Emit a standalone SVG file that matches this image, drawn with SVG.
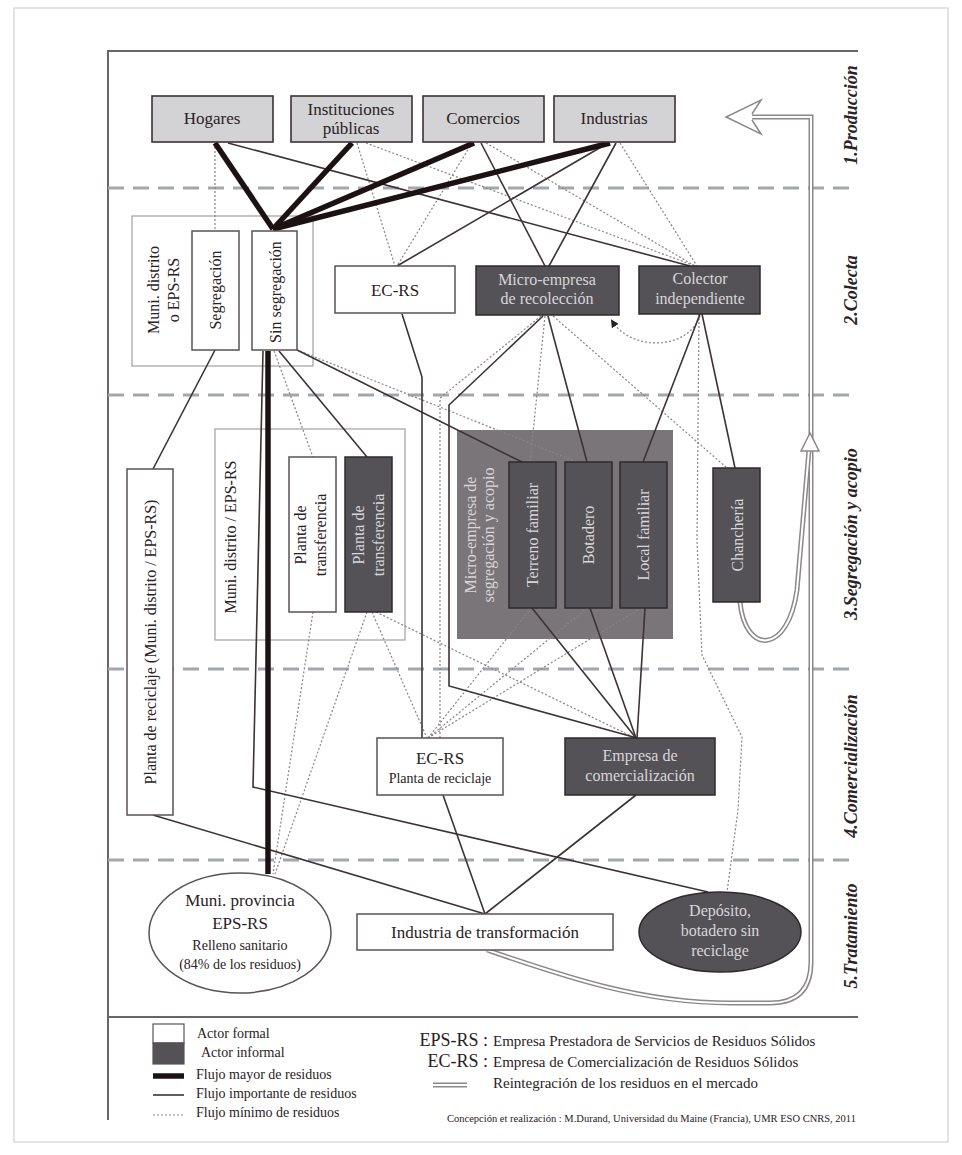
<svg xmlns="http://www.w3.org/2000/svg" width="962" height="1155" viewBox="0 0 962 1155">
<defs>
<style>
text{font-family:"Liberation Serif","Times New Roman",serif;fill:#2a2224}
.t16{font-size:16px;text-anchor:middle}
.t17{font-size:17px;text-anchor:middle}
.lt{fill:#d9d6d9}
.stage{font-size:18px;font-weight:bold;font-style:italic;text-anchor:middle;fill:#2a2224}
.prod{fill:#d3d3d6;stroke:#3a3334;stroke-width:1.6}
.wn{fill:#ffffff;stroke:#5a5254;stroke-width:1.5}
.dn{fill:#545157;stroke:#2e2a2c;stroke-width:1.5}
.grp{fill:none;stroke:#a9a6a8;stroke-width:1.3}
.sep{stroke:#a3a6ad;stroke-width:3;stroke-dasharray:16 9;fill:none}
.thick{stroke:#1c1214;stroke-width:5.5;fill:none}
.solid{stroke:#3d3234;stroke-width:1.6;fill:none}
.dot{stroke:#8a8486;stroke-width:1.2;stroke-dasharray:2 2;fill:none}
.dblo{stroke:#8c8889;stroke-width:5;fill:none}
.dbli{stroke:#ffffff;stroke-width:2;fill:none}
.leg{font-size:14px}
</style>
<marker id="ah" markerWidth="8" markerHeight="8" refX="6" refY="4" orient="auto" markerUnits="userSpaceOnUse">
<path d="M0,0 L8,4 L0,8 Z" fill="#2a2224"/>
</marker>
</defs>
<rect x="0" y="0" width="962" height="1155" fill="#ffffff"/>
<rect x="14" y="8" width="934" height="1134" fill="none" stroke="#c8c8c8" stroke-width="1"/>
<g id="frame">
<path d="M858,51 L108,51 L108,1120" fill="none" stroke="#6b6364" stroke-width="2"/>
<path d="M108,1017 L858,1017" fill="none" stroke="#6b6364" stroke-width="2"/>
<path class="sep" d="M108,188 L858,188"/>
<path class="sep" d="M108,395 L858,395"/>
<path class="sep" d="M108,669 L858,669"/>
<path class="sep" d="M108,860 L858,860"/>
</g>
<g id="stages">
<text class="stage" transform="translate(857,115) rotate(-90)">1.Producción</text>
<text class="stage" transform="translate(857,290) rotate(-90)">2.Colecta</text>
<text class="stage" transform="translate(857,534) rotate(-90)">3.Segregación y acopio</text>
<text class="stage" transform="translate(857,766) rotate(-90)">4.Comercialización</text>
<text class="stage" transform="translate(857,936) rotate(-90)">5.Tratamiento</text>
</g>
<g id="groups">
<rect class="grp" x="132" y="216" width="181" height="150"/>
<text class="t16" transform="translate(159,290) rotate(-90)">Muni. distrito</text>
<text class="t16" transform="translate(179,290) rotate(-90)">o EPS-RS</text>
<rect class="grp" x="215" y="429" width="190" height="211"/>
<text class="t16" transform="translate(236,537) rotate(-90)">Muni. distrito / EPS-RS</text>
<rect x="457" y="430" width="216" height="209" fill="#7a7579"/>
<text class="t16 lt" transform="translate(476,535) rotate(-90)">Micro-empresa de</text>
<text class="t16 lt" transform="translate(494,535) rotate(-90)">segregación y acopio</text>
</g>
<g id="connectors">
<path class="dblo" d="M487,950 C560,975 640,1003 730,1003 L770,1003 Q811,1003 811,962 L811,117 L752,117"/>
<path class="dbli" d="M487,950 C560,975 640,1003 730,1003 L770,1003 Q811,1003 811,962 L811,117 L752,117"/>
<path class="dblo" d="M740,602 C745,655 788,655 797,590 L809,450"/>
<path class="dbli" d="M740,602 C745,655 788,655 797,590 L809,450"/>
<path d="M752,114 L761,100 L726,117 L761,134 L752,120" fill="#ffffff" stroke="#8c8889" stroke-width="1.5"/>
<path d="M810,433 L801,451 L819,451 Z" fill="#ffffff" stroke="#8c8889" stroke-width="1.5"/>
<path class="dot" d="M215,143 L215,231"/>
<path class="dot" d="M357,143 L395,266"/>
<path class="dot" d="M366,143 L695,266"/>
<path class="dot" d="M472,143 L397,266"/>
<path class="dot" d="M486,143 L695,266"/>
<path class="dot" d="M620,143 L697,266"/>
<path class="dot" d="M274,351 L313,457"/>
<path class="dot" d="M300,351 L577,462"/>
<path class="dot" d="M541,316 L440,398 L440,738"/>
<path class="dot" d="M545,316 L530,462"/>
<path class="dot" d="M553,316 L727,468"/>
<path class="dot" d="M699,314 L697,540 L702,655 L742,737 L738,810 L727,892"/>
<path class="dot" d="M313,612 L273,874"/>
<path class="dot" d="M367,612 L275,874"/>
<path class="dot" d="M372,612 L427,738"/>
<path class="dot" d="M376,612 L635,738"/>
<path class="dot" d="M428,738 L531,608"/>
<path class="dot" d="M428,738 L587,608"/>
<path class="dot" d="M428,738 L641,608"/>
<path class="dot" d="M700,316 C688,350 632,352 612,321" marker-end="url(#ah)"/>
<path class="solid" d="M228,143 L690,266"/>
<path class="solid" d="M481,143 L545,266"/>
<path class="solid" d="M608,143 L397,266"/>
<path class="solid" d="M616,143 L549,266"/>
<path class="solid" d="M215,350 L153,469"/>
<path class="solid" d="M263,351 L253,787 L708,892"/>
<path class="solid" d="M279,351 L367,457"/>
<path class="solid" d="M297,350 L522,462"/>
<path class="solid" d="M402,314 L422,377 L422,738"/>
<path class="solid" d="M543,316 L449,405 L449,686 L637,738"/>
<path class="solid" d="M548,316 L587,462"/>
<path class="solid" d="M700,314 L643,462"/>
<path class="solid" d="M702,314 L735,468"/>
<path class="solid" d="M532,608 L636,738"/>
<path class="solid" d="M590,608 L636,738"/>
<path class="solid" d="M645,608 L637,738"/>
<path class="solid" d="M443,795 L485,914"/>
<path class="solid" d="M636,795 L485,914"/>
<path class="solid" d="M153,815 L485,914"/>
<path class="thick" d="M273,229 L215,143"/>
<path class="thick" d="M273,229 L352,143"/>
<path class="thick" d="M273,229 L474,143"/>
<path class="thick" d="M273,229 L610,143"/>
<path class="thick" d="M268,351 L268,874"/>
</g>
<g id="hogares"><rect class="prod" x="152" y="96" width="121" height="46"/><text class="t17" x="212" y="124">Hogares</text></g>
<g id="instituciones"><rect class="prod" x="291" y="96" width="121" height="46"/><text class="t17" x="351" y="115">Instituciones</text><text class="t17" x="351" y="134">públicas</text></g>
<g id="comercios"><rect class="prod" x="423" y="96" width="121" height="46"/><text class="t17" x="483" y="124">Comercios</text></g>
<g id="industrias"><rect class="prod" x="554" y="96" width="121" height="46"/><text class="t17" x="614" y="124">Industrias</text></g>
<g id="segregacion"><rect class="wn" x="192" y="231" width="47" height="119"/><text class="t16" transform="translate(221,290) rotate(-90)">Segregación</text></g>
<g id="sin-segregacion"><rect class="wn" x="252" y="231" width="45" height="119"/><text class="t16" transform="translate(281,292) rotate(-90)">Sin segregación</text></g>
<g id="ec-rs"><rect class="wn" x="335" y="266" width="120" height="47"/><text class="t17" x="395" y="296">EC-RS</text></g>
<g id="micro-recoleccion"><rect class="dn" x="476" y="266" width="143" height="49"/><text class="t16 lt" x="547" y="285">Micro-empresa</text><text class="t16 lt" x="547" y="304">de recolección</text></g>
<g id="colector"><rect class="dn" x="639" y="266" width="121" height="48"/><text class="t16 lt" x="700" y="284">Colector</text><text class="t16 lt" x="700" y="304">independiente</text></g>
<g id="planta-reciclaje"><rect class="wn" x="127" y="469" width="46" height="346"/><text class="t16" transform="translate(156,642) rotate(-90)">Planta de reciclaje (Muni. distrito / EPS-RS)</text></g>
<g id="planta-transf-formal"><rect class="wn" x="289" y="457" width="47" height="155"/><text class="t16" transform="translate(306,535) rotate(-90)">Planta de</text><text class="t16" transform="translate(326,535) rotate(-90)">transferencia</text></g>
<g id="planta-transf-informal"><rect class="dn" x="345" y="457" width="47" height="155"/><text class="t16 lt" transform="translate(364,535) rotate(-90)">Planta de</text><text class="t16 lt" transform="translate(384,535) rotate(-90)">transferencia</text></g>
<g id="terreno"><rect class="dn" x="509" y="462" width="47" height="146"/><text class="t16 lt" transform="translate(538,535) rotate(-90)">Terreno familiar</text></g>
<g id="botadero"><rect class="dn" x="565" y="462" width="47" height="146"/><text class="t16 lt" transform="translate(594,535) rotate(-90)">Botadero</text></g>
<g id="local"><rect class="dn" x="620" y="462" width="47" height="146"/><text class="t16 lt" transform="translate(649,535) rotate(-90)">Local familiar</text></g>
<g id="chancheria"><rect class="dn" x="713" y="468" width="47" height="134"/><text class="t16 lt" transform="translate(743,535) rotate(-90)">Chanchería</text></g>
<g id="ec-rs-planta"><rect class="wn" x="377" y="738" width="126" height="57"/><text class="t17" x="440" y="764">EC-RS</text><text x="440" y="783" style="font-size:14px;text-anchor:middle">Planta de reciclaje</text></g>
<g id="empresa-comercializacion"><rect class="dn" x="565" y="738" width="150" height="57"/><text class="t16 lt" x="640" y="761">Empresa de</text><text class="t16 lt" x="640" y="781">comercialización</text></g>
<g id="muni-provincia"><ellipse cx="240" cy="933" rx="91" ry="60" fill="#ffffff" stroke="#5a5254" stroke-width="1.5"/><text class="t17" x="240" y="906">Muni. provincia</text><text class="t17" x="240" y="929">EPS-RS</text><text x="240" y="950" style="font-size:14px;text-anchor:middle">Relleno sanitario</text><text x="240" y="969" style="font-size:14px;text-anchor:middle">(84% de los residuos)</text></g>
<g id="industria-transformacion"><rect class="wn" x="357" y="914" width="256" height="36"/><text class="t17" x="485" y="938">Industria de transformación</text></g>
<g id="deposito"><ellipse cx="720" cy="932" rx="81" ry="40" fill="#545157" stroke="#2e2a2c" stroke-width="1.5"/><text class="t16 lt" x="720" y="916">Depósito,</text><text class="t16 lt" x="720" y="936">botadero sin</text><text class="t16 lt" x="720" y="956">reciclage</text></g>
<g id="legend">
<rect x="153" y="1024" width="31" height="19" fill="#ffffff" stroke="#5a5254" stroke-width="1.2"/>
<rect x="153" y="1043" width="31" height="21" fill="#545157" stroke="#5a5254" stroke-width="1.2"/>
<text class="leg" x="197" y="1038">Actor formal</text>
<text class="leg" x="201" y="1057">Actor informal</text>
<path class="thick" d="M153,1076 L184,1076"/>
<text class="leg" x="196" y="1079">Flujo mayor de residuos</text>
<path class="solid" d="M153,1095 L184,1095"/>
<text class="leg" x="196" y="1098">Flujo importante de residuos</text>
<path class="dot" d="M153,1115 L184,1115"/>
<text class="leg" x="196" y="1117">Flujo mínimo de residuos</text>
<text x="488" y="1046" style="font-size:18px;text-anchor:end">EPS-RS :</text>
<text x="493" y="1046" style="font-size:15px">Empresa Prestadora de Servicios de Residuos Sólidos</text>
<text x="488" y="1067" style="font-size:18px;text-anchor:end">EC-RS :</text>
<text x="493" y="1067" style="font-size:15px">Empresa de Comercialización de Residuos Sólidos</text>
<path class="dblo" d="M433,1085 L467,1085"/>
<path class="dbli" d="M433,1085 L467,1085"/>
<text x="493" y="1088" style="font-size:15px">Reintegración de los residuos en el mercado</text>
<text x="447" y="1122" style="font-size:10px" textLength="409" lengthAdjust="spacingAndGlyphs">Concepción et realización : M.Durand, Universidad du Maine (Francia), UMR ESO CNRS, 2011</text>
</g>
</svg>
